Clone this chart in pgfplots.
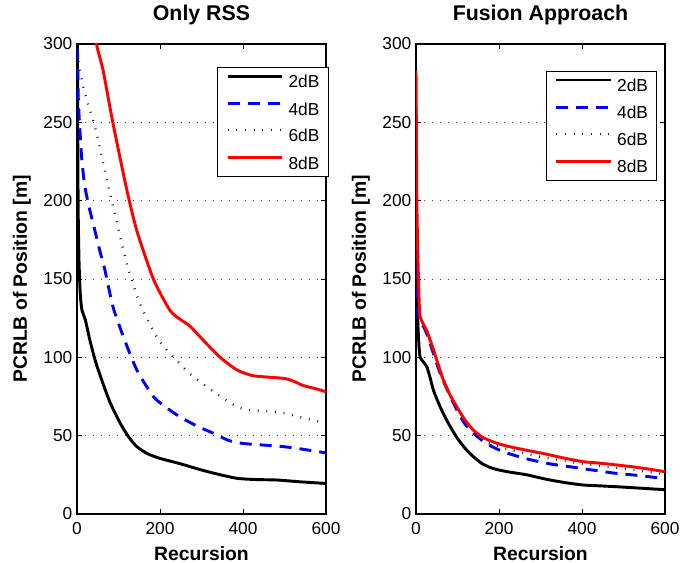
\documentclass[border=0pt]{standalone}
\usepackage{fontspec}
\setmainfont{Liberation Sans}
\usepackage{pgfplots}
\pgfplotsset{compat=1.18}

% 1px of the reference = 0.75pt
\pgfplotsset{
  pcrlb/.style={
    width=186.75pt, height=352.5pt, scale only axis,
    xmin=0, xmax=600, ymin=0, ymax=300,
    xtick={0,200,400,600}, ytick={0,50,...,300},
    tick align=inside, xtick pos=both, ytick pos=both,
    major tick length=4pt,
    ymajorgrids, major grid style={black!75, line width=0.6pt, dash pattern=on 0.7pt off 5.3pt},
    axis line style={line width=0.8pt},
    every tick/.style={black, line width=0.6pt},
    /pgf/number format/assume math mode=true,
    tick label style={font=\fontsize{13}{15}\selectfont},
    xticklabel style={yshift=-2.5pt},
    label style={font=\fontsize{14.5}{17}\selectfont\bfseries},
    title style={font=\fontsize{16}{18}\selectfont\bfseries,
      at={(rel axis cs:0.5,1.034)}, anchor=base},
    xlabel={Recursion},
    xlabel style={at={(rel axis cs:0.5,-0.098)}, anchor=base},
    ylabel={PCRLB of Position [m]},
    ylabel style={at={(rel axis cs:-0.221,0.5)}, anchor=center},
    clip=true,
    legend cell align=left,
    legend style={draw=black, line width=0.6pt, font=\fontsize{13}{15}\selectfont,
      inner xsep=6.5pt, inner ysep=5.5pt, row sep=10.5pt, column sep=3.5pt,
      nodes={inner sep=0pt, text height=9.5pt, text depth=0pt}},
    legend image code/.code={\draw[#1] (0pt,4pt) -- (41pt,4pt);},
  },
  s2/.style={black, line width=2.2pt, smooth, tension=0.4},
  s4/.style={blue, line width=2.2pt, dash pattern=on 9pt off 6pt, smooth, tension=0.4},
  s6/.style={black!85, line width=1.8pt, dash pattern=on 0.7pt off 5.8pt, smooth, tension=0.4},
  s8/.style={red, line width=2.2pt, smooth, tension=0.4},
}

\begin{document}
\begin{tikzpicture}
\useasboundingbox (-57.75pt,-36.75pt) rectangle (453pt,385.5pt);
\begin{axis}[pcrlb, title={Only RSS},
  legend style={at={(rel axis cs:1.01,0.951)}, anchor=north east}]
\addplot[s2] coordinates {
(0,330)(1,300)(2,230)(3,190)(5,160)(8,140)(12,130)(20,124)(31,111)(45,97)
(63,83)(80,71)(104,58)(125,49)(144,43)(170,38.5)(200,35.5)(250,32)(288,29)
(330,26)(385,22.8)(430,22)(481,21.7)(540,20.5)(600,19.5)};
\addplot[s4] coordinates {
(0,310)(1,300)(3,266)(7,245)(12,225)(19,209)(30,195)(43,181)(55,168)(67,156)
(87,132)(112,113)(144,92)(184,75)(215,68)(248,62)(290,56)(329,51.5)(365,47)
(401,45)(450,44)(497,43)(540,41.5)(600,39)};
\addplot[s6] coordinates {
(0,300)(3,290)(8,282)(15,273)(25,263)(39,251)(50,240)(63,224)(84,200)(104,177)
(124,156)(152,134)(192,113)(215,105)(240,98)(270,90)(304,83)(335,77)(369,71)
(400,67)(433,66)(470,65.5)(505,64)(550,61)(600,58)};
\addplot[s8] coordinates {
(30,330)(47,300)(63,283)(87,249)(120,207)(144,181)(184,150)(224,130)(250,124)
(272,120)(304,111)(345,100)(385,92)(420,88.5)(449,87.6)(497,86.6)(520,85)
(545,82)(575,80)(600,78)};
\legend{2dB,4dB,6dB,8dB}
\end{axis}

\begin{axis}[pcrlb, title={Fusion Approach}, at={(254.25pt,0pt)},
  legend style={at={(rel axis cs:0.968,0.943)}, anchor=north east}]
\addplot[s2] coordinates {
(0,160)(2,150)(4,125)(7,108)(10,100)(18,97)(26,94)(34,87)(42,79)(54,71)
(66,64)(80,57)(98,49)(118,42)(138,36.6)(160,32)(186,29)(220,27)(267,25)
(300,23)(323,21.7)(360,20)(403,18.5)(440,18)(484,17.4)(540,16.5)(600,15.5)};
\addplot[s4] coordinates {
(0,260)(1,200)(3,145)(5.6,126)(10,122)(18,119.6)(26,115)(34,109)(45,100)
(58,90)(74,80)(90,71)(105,63)(122,56)(145,50)(170,45)(195,41.5)(218,39)
(270,35)(323,32)(375,30)(427,28)(480,26)(540,24.5)(600,22.5)};
\addplot[s6] coordinates {
(0,270)(1,220)(3,160)(6,135)(10,125)(18,121)(26,117)(34,111)(45,102)(58,92)
(74,81)(90,72)(110,63)(138,53)(170,46)(200,43)(242,40)(290,37)(323,35.5)
(403,32)(484,29.5)(540,27.5)(600,25.5)};
\addplot[s8] coordinates {
(0,283)(1,240)(2,200)(4,170)(6,150)(8,133)(10,126)(18,121)(26,117)(34,111)
(42,105)(54,95)(66,85.5)(82,76)(98,68.5)(118,60)(138,53.6)(160,49)(186,46)
(210,44)(242,42)(280,40)(323,37.7)(360,35.5)(403,33.4)(440,32.5)(484,31.3)
(540,29.5)(600,27)};
\legend{2dB,4dB,6dB,8dB}
\end{axis}
\end{tikzpicture}
\end{document}
